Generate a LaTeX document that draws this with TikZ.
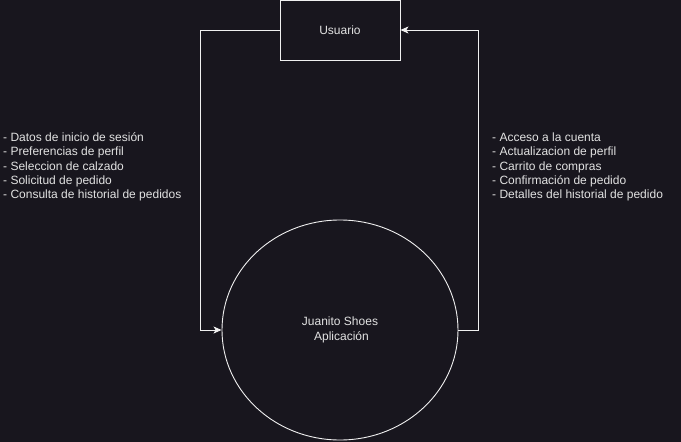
\documentclass[tikz,border=0pt]{standalone}
\usepackage{fontspec}
\setmainfont{Liberation Sans}
\usepackage{tikz}
\usetikzlibrary{arrows.meta, shapes.geometric}
\definecolor{bg}{HTML}{18161E}
\definecolor{ink}{HTML}{F0F0F0}
\definecolor{txt}{HTML}{E2E2E2}

\begin{document}
\begin{tikzpicture}[x=1pt, y=-1pt,
  every node/.style = {font=\fontsize{12}{14.4}\selectfont, text=txt},
  flow/.style = {draw=ink, line width=0.9pt, -{Stealth[length=8pt,width=7pt,inset=2pt]}},
  entity/.style = {draw=ink, line width=0.9pt, minimum width=120pt, minimum height=60pt, inner sep=0pt},
  process/.style = {draw=ink, line width=0.9pt, ellipse, minimum width=236pt, minimum height=220pt, inner sep=0pt, align=center},
  datalist/.style = {align=left, inner sep=0pt}]
\fill[bg] (0,0) rectangle (681,442);
\useasboundingbox (0,0) rectangle (681,442);

\node[entity] (usuario) at (340,30) {Usuario};
\node[process] (app) at (340,330) {Juanito Shoes\\ \hspace*{3pt}Aplicación};

\coordinate (izq) at (200,30);
\coordinate (der) at (478,330);
\draw[flow] (usuario.west) -- (izq) |- (app.west);
\draw[flow] (app.east) -- (der) |- (usuario.east);

\node[datalist, anchor=west] (entrada) at (3,167) {- Datos de inicio de sesión\\
- Preferencias de perfil\\
- Seleccion de calzado\\
- Solicitud de pedido\\
- Consulta de historial de pedidos};
\node[datalist, anchor=west] (salida) at (492,167) {- Acceso a la cuenta\\
- Actualizacion de perfil\\
- Carrito de compras\\
- Confirmación de pedido\\
- Detalles del historial de pedido};
\end{tikzpicture}
\end{document}
